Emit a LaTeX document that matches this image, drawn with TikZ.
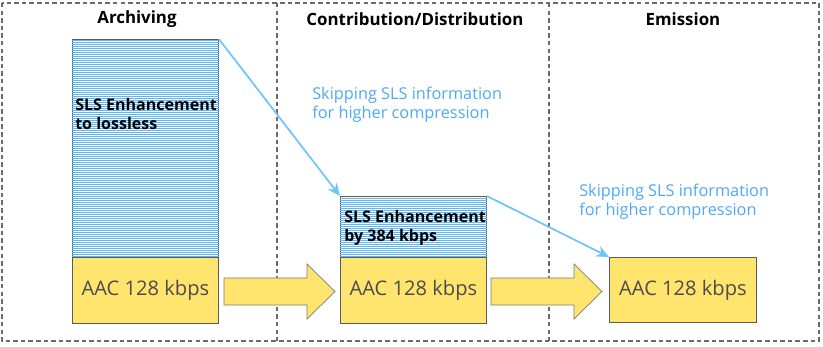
\documentclass[tikz,border=0pt]{standalone}
\usepackage{fontspec}
\setmainfont{Open Sans}
\usetikzlibrary{arrows.meta}
\definecolor{aacyellow}{HTML}{FFE46E}
\definecolor{slsblue}{HTML}{5BB8F5}
\definecolor{skipblue}{HTML}{4FA8F7}
\definecolor{linkblue}{HTML}{6CC4FF}
\definecolor{edgegray}{HTML}{5A5A5A}
\newcommand{\pxl}{0.025cm}
\tikzset{
  stagebox/.style={draw=edgegray!90,dash pattern=on 3.2pt off 2.2pt,line width=0.8pt},
  stagetitle/.style={font=\bfseries\fontsize{12}{14}\selectfont},
  slsbox/.style={draw=edgegray,line width=0.6pt,anchor=north west,inner sep=0pt,
    minimum width=146*\pxl,minimum height=#1*\pxl},
  hatch/.style={draw=slsblue,line width=0.7pt},
  aacbox/.style={draw=edgegray,line width=0.6pt,fill=aacyellow,anchor=north west,inner sep=0pt,
    text=black!70,font=\fontsize{14.3}{16}\selectfont},
  slstext/.style={anchor=west,align=left,inner sep=0pt,font=\bfseries\fontsize{11.4}{13.8}\selectfont},
  skiptext/.style={anchor=west,align=left,inner sep=0pt,text=skipblue,font=\fontsize{11.6}{13.8}\selectfont},
  skipline/.style={draw=linkblue,line width=1.2pt,-{Stealth[length=9pt,width=8pt]}},
  fwd/.style={draw=edgegray!80,line width=0.5pt,fill=aacyellow,line join=miter}
}
\begin{document}
\begin{tikzpicture}[x=\pxl,y=-\pxl]
  \useasboundingbox (0,0) rectangle (823,347);

  % stages
  \draw[stagebox] (2,3) rectangle (819,341);
  \draw[stagebox] (277,3) -- (277,341);
  \draw[stagebox] (549,3) -- (549,341);
  \node[stagetitle] (archtitle) at (137,19) {Archiving};
  \node[stagetitle] (disttitle) at (415,19) {Contribution/Distribution};
  \node[stagetitle] (emittitle) at (683,19) {Emission};

  % archiving
  \node[slsbox=218] (archsls) at (72,39) {};
  \foreach \k in {1,3,...,217}
    \draw[hatch] ([yshift=-\k*\pxl]archsls.north west) -- ([yshift=-\k*\pxl]archsls.north east);
  \node[aacbox,minimum width=146*\pxl,minimum height=66*\pxl] (archaac) at (72,257) {AAC 128 kbps};
  \node[slstext] (archtxt) at (75,114) {SLS Enhancement\\to lossless};

  % contribution/distribution
  \node[slsbox=61] (distsls) at (340,196) {};
  \foreach \k in {2,4,...,60}
    \draw[hatch] ([yshift=-\k*\pxl]distsls.north west) -- ([yshift=-\k*\pxl]distsls.north east);
  \node[aacbox,minimum width=146*\pxl,minimum height=66*\pxl] (distaac) at (340,257) {AAC 128 kbps};
  \node[slstext] (disttxt) at (344,228) {SLS Enhancement\\by 384 kbps};

  % emission
  \node[aacbox,minimum width=147*\pxl,minimum height=65*\pxl] (emitaac) at (609,257) {AAC 128 kbps};

  % skipping SLS
  \node[skiptext] (skipA) at (312,105) {Skipping SLS information\\for higher compression};
  \node[skiptext] (skipB) at (579,202) {Skipping SLS information\\for higher compression};
  \draw[skipline] (archsls.north east) -- (distsls.north west);
  \draw[skipline] (distsls.north east) -- (emitaac.north west);

  % block arrows
  \foreach \x in {224,491}
    \draw[fwd] (\x,278) -- ++(83,0) -- ++(0,-14) -- ++(28,27.5) -- ++(-28,27.5)
      -- ++(0,-14) -- ++(-83,0) -- cycle;
\end{tikzpicture}
\end{document}
